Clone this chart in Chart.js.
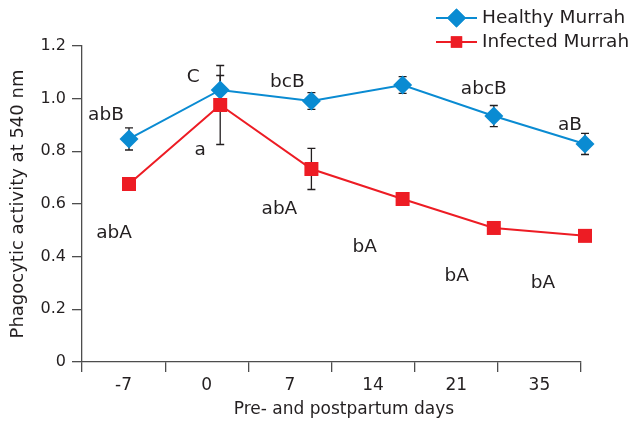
<!DOCTYPE html>
<html>
<head>
<meta charset="utf-8">
<script src="https://cdn.jsdelivr.net/npm/chart.js@4/dist/chart.umd.min.js"></script>
<style>
  html, body { margin: 0; padding: 0; background: #fff; }
  #wrap { width: 632px; height: 425px; }
</style>
</head>
<body>
<div id="wrap"><canvas id="chart"></canvas></div>
<script>
// days on the x axis
const dayLabels = ['-7', '0', '7', '14', '21', '35'];

// mean phagocytic activity and error (SE)
const healthyMurrah = [0.847, 1.033, 0.991, 1.052, 0.934, 0.828];
const healthyErr = [0.042, 0.055, 0.032, 0.032, 0.04, 0.04];
const infectedMurrah = [0.676, 0.976, 0.733, 0.619, 0.509, 0.479];
const infectedErr = [0.02, 0.15, 0.078, 0.02, 0.02, 0.02];

// significance letters
const healthyLetters = ['abB', 'C', 'bcB', '', 'abcB', 'aB'];
const infectedLetters = ['abA', 'a', 'abA', 'bA', 'bA', 'bA'];

// where the letters sit relative to their point (px)
const healthyLetterOffsets = [[-23, -24], [-27, -13], [-24, -19], [0, 0], [-10, -27], [-15, -19]];
const infectedLetterOffsets = [[-15, 49], [-20, 45], [-32, 40], [-38, 48], [-37, 48], [-42, 47]];

const TEXT = '#231f20';
const AXIS = '#4d4d4d';
const BLUE = '#0a8bd2';
const RED = '#ed1c24';
const FONT = 'DejaVu Sans';

const errorBars = {
    id: 'errorBars',
    beforeDatasetsDraw(chart) {
        const ctx = chart.ctx;
        const y = chart.scales.y;
        ctx.save();
        ctx.strokeStyle = TEXT;
        ctx.lineWidth = 1.3;
        chart.data.datasets.forEach((ds, i) => {
            const meta = chart.getDatasetMeta(i);
            meta.data.forEach((pt, j) => {
                const v = ds.data[j].y;
                const e = ds.errors[j];
                const top = y.getPixelForValue(v + e);
                const bot = y.getPixelForValue(v - e);
                ctx.beginPath();
                ctx.moveTo(pt.x, top);
                ctx.lineTo(pt.x, bot);
                ctx.moveTo(pt.x - 4, top);
                ctx.lineTo(pt.x + 4, top);
                ctx.moveTo(pt.x - 4, bot);
                ctx.lineTo(pt.x + 4, bot);
                ctx.stroke();
            });
        });
        ctx.restore();
    }
};

const letters = {
    id: 'letters',
    afterDatasetsDraw(chart) {
        const ctx = chart.ctx;
        ctx.save();
        ctx.fillStyle = TEXT;
        ctx.font = '18.5px "' + FONT + '"';
        ctx.textAlign = 'center';
        ctx.textBaseline = 'middle';
        chart.data.datasets.forEach((ds, i) => {
            const meta = chart.getDatasetMeta(i);
            meta.data.forEach((pt, j) => {
                const txt = ds.letters[j];
                if (!txt) return;
                const off = ds.letterOffsets[j];
                ctx.fillText(txt, pt.x + off[0], pt.y + off[1]);
            });
        });
        ctx.restore();
    }
};

// legend (line with marker in the middle) and the x title, which sits off-centre
const lineLegend = {
    id: 'lineLegend',
    afterDraw(chart) {
        const ctx = chart.ctx;
        ctx.save();
        chart.data.datasets.forEach((ds, i) => {
            const y = 18 + i * 24;
            ctx.strokeStyle = ds.borderColor;
            ctx.lineWidth = 2;
            ctx.beginPath();
            ctx.moveTo(436, y);
            ctx.lineTo(477, y);
            ctx.stroke();
            ctx.fillStyle = ds.backgroundColor;
            Chart.helpers.drawPoint(ctx, {
                pointStyle: ds.pointStyle,
                radius: ds.pointStyle === 'rect' ? 8 : 9.5,
                borderWidth: 0,
                rotation: 0,
            }, 456.5, y);
            ctx.fill();
            ctx.fillStyle = TEXT;
            ctx.font = '18.5px "' + FONT + '"';
            ctx.textAlign = 'left';
            ctx.textBaseline = 'middle';
            ctx.fillText(ds.label, 482, y);
        });

        ctx.fillStyle = TEXT;
        ctx.font = '17px "' + FONT + '"';
        ctx.textAlign = 'center';
        ctx.textBaseline = 'middle';
        ctx.fillText('Pre- and postpartum days', 344, 410);
        ctx.restore();
    }
};

new Chart(document.getElementById('chart'), {
    type: 'line',
    data: {
        datasets: [{
            label: 'Healthy Murrah',
            data: healthyMurrah.map((v, i) => ({ x: i, y: v })),
            errors: healthyErr,
            letters: healthyLetters,
            letterOffsets: healthyLetterOffsets,
            borderColor: BLUE,
            backgroundColor: BLUE,
            pointStyle: 'rectRot',
            pointRadius: 9.5,
            pointHoverRadius: 9.5,
            pointBorderWidth: 0,
            borderWidth: 2,
            tension: 0,
            clip: false,
            xAxisID: 'xd',
            order: 1,
        }, {
            label: 'Infected Murrah',
            data: infectedMurrah.map((v, i) => ({ x: i, y: v })),
            errors: infectedErr,
            letters: infectedLetters,
            letterOffsets: infectedLetterOffsets,
            borderColor: RED,
            backgroundColor: RED,
            pointStyle: 'rect',
            pointRadius: 9.9,
            pointHoverRadius: 9.9,
            pointBorderWidth: 0,
            borderWidth: 2,
            tension: 0,
            clip: false,
            xAxisID: 'xd',
            order: 0,
        }],
    },
    options: {
        responsive: true,
        maintainAspectRatio: false,
        animation: false,
        layout: {
            padding: { top: 46, right: 51, left: 0, bottom: 0 },
        },
        scales: {
            x: {
                type: 'category',
                labels: dayLabels,
                offset: true,
                grid: {
                    offset: true,
                    drawOnChartArea: false,
                    tickLength: 10,
                    color: AXIS,
                    lineWidth: 1.3,
                },
                border: { color: AXIS, width: 1.3 },
                ticks: {
                    color: TEXT,
                    font: { family: FONT, size: 17 },
                    padding: 3,
                },
                afterFit: (s) => { s.height = 63; },
            },
            // hidden axis that places the points
            xd: {
                type: 'linear',
                display: false,
                min: -0.5154,
                max: 4.956,
            },
            y: {
                min: 0,
                max: 1.2,
                ticks: {
                    stepSize: 0.2,
                    color: TEXT,
                    font: { family: FONT, size: 16 },
                    padding: 6,
                    callback: (v) => v === 0 ? '0' : v.toFixed(1),
                },
                grid: {
                    drawOnChartArea: false,
                    tickLength: 10,
                    color: AXIS,
                    lineWidth: 1.3,
                },
                border: { color: AXIS, width: 1.3 },
                title: {
                    display: true,
                    text: 'Phagocytic activity at 540 nm',
                    color: TEXT,
                    font: { family: FONT, size: 18 },
                    padding: { top: 8, bottom: 0 },
                },
                afterFit: (s) => { s.width = 82; },
            },
        },
        plugins: {
            legend: { display: false },
            tooltip: { enabled: false },
        },
    },
    plugins: [errorBars, letters, lineLegend],
});
</script>
</body>
</html>
